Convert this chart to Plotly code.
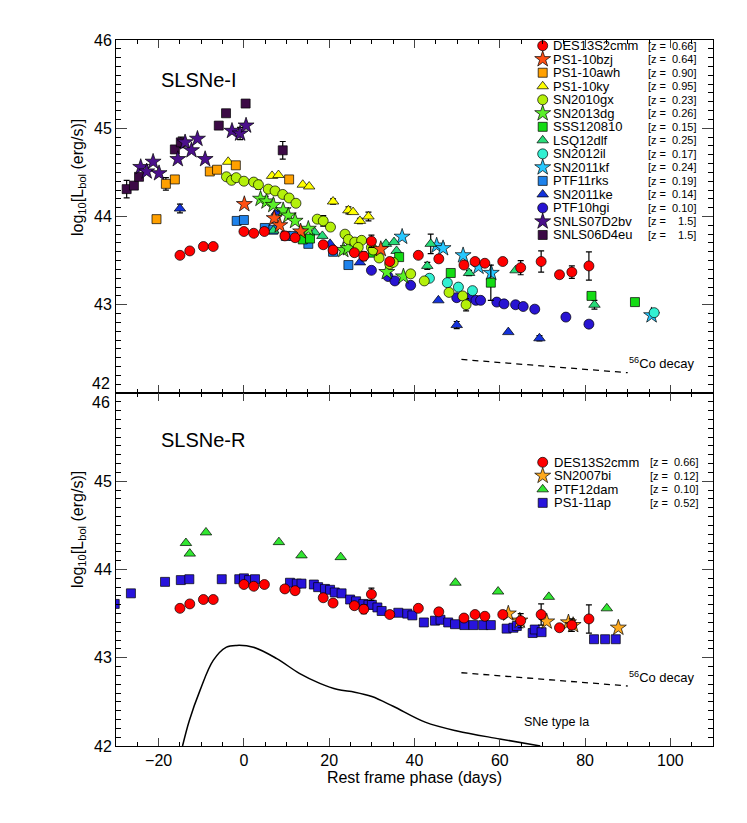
import plotly.graph_objects as go
from plotly.subplots import make_subplots

FONT = "Liberation Sans, Arial, Helvetica, sans-serif"

# ---------------- SLSNe-I (top panel) ----------------
des_x = [-15.0, -12.7, -9.5, -7.2, 0.0, 2.3, 4.8, 9.6, 12.0, 18.6, 20.9, 25.9, 28.1, 29.9, 34.2,
         40.9, 45.7, 51.6, 54.2, 56.5, 60.7, 64.9, 69.7, 74.0, 76.9, 80.9]
des_y = [43.56, 43.61, 43.66, 43.66, 43.83, 43.81, 43.83, 43.78, 43.76, 43.68, 43.62, 43.59, 43.55, 43.72, 43.49,
         43.56, 43.52, 43.45, 43.49, 43.47, 43.49, 43.42, 43.49, 43.34, 43.37, 43.44]
des_err = [0, 0, 0, 0, 0, 0, 0, 0, 0, 0, 0, 0, 0.05, 0.07, 0,
           0, 0.03, 0, 0.03, 0, 0, 0.08, 0.12, 0.03, 0.07, 0.16]

bzj_x = [0.1, 7.1, 8.4, 13.3, 32.1]
bzj_y = [44.14, 43.98, 43.90, 43.83, 43.63]

awh_x = [-20.5, -18.3, -16.2, -8.0, -6.3, -1.9, 10.6]
awh_y = [43.97, 44.37, 44.42, 44.51, 44.53, 44.58, 44.42]
awh_err = [0, 0.07, 0, 0, 0, 0, 0]

ky_x = [-3.7, 6.6, 8.1, 13.8, 15.3, 20.9, 24.5, 25.6, 27.2, 29.2]
ky_y = [44.62, 44.46, 44.47, 44.36, 44.34, 44.17, 44.07, 44.05, 43.95, 44.00]
ky_err = [0, 0, 0, 0, 0, 0.03, 0.04, 0, 0.03, 0.05]

gx_x = [-4.1, -2.9, -1.8, 0.0, 2.3, 3.4, 5.7, 7.3, 9.1, 10.6, 12.2, 17.2, 18.6, 20.3, 23.7,
        24.5, 26.0, 27.6, 26.8, 29.9, 30.3, 31.7, 34.2, 35.0, 39.1, 42.3, 48.1, 51.3, 52.1]
gx_y = [44.45, 44.41, 44.44, 44.40, 44.39, 44.36, 44.31, 44.29, 44.25, 44.21, 44.15, 43.97, 43.95, 43.88, 43.80,
        43.74, 43.71, 43.73, 43.65, 43.65, 43.62, 43.53, 43.46, 43.48, 43.35, 43.27, 43.14, 43.10, 43.00]
gx_err = [0, 0, 0, 0, 0, 0.05, 0, 0, 0, 0, 0, 0, 0.06, 0, 0,
          0, 0, 0, 0, 0, 0, 0, 0, 0, 0, 0, 0, 0, 0.07]

dg_x = [3.9, 5.3, 6.9, 9.2, 10.4, 12.0, 15.1, 23.3, 24.4, 33.5, 37.4]
dg_y = [44.20, 44.17, 44.13, 44.07, 44.01, 43.95, 43.86, 43.62, 43.64, 43.37, 43.32]

sss_x = [13.8, 15.5, 30.2, 36.4, 48.5, 57.9, 81.5, 91.7]
sss_y = [43.74, 43.75, 43.59, 43.54, 43.36, 43.25, 43.10, 43.03]
sss_err = [0, 0, 0, 0, 0, 0.20, 0, 0]

lsq_x = [6.9, 16.6, 18.4, 33.3, 35.2, 35.8, 43.0, 43.8, 52.8, 63.7, 82.2]
lsq_y = [43.84, 43.82, 43.78, 43.69, 43.71, 43.61, 43.44, 43.69, 43.36, 43.39, 43.00]
lsq_err = [0, 0, 0, 0, 0, 0, 0.04, 0.11, 0.03, 0, 0.05]

il_x = [43.5, 47.7, 50.3, 53.6, 96.2]
il_y = [43.30, 43.25, 43.20, 43.16, 42.91]

kf_x = [37.1, 45.2, 46.7, 51.4, 55.0, 58.0, 95.6]
kf_y = [43.77, 43.67, 43.64, 43.56, 43.43, 43.36, 42.88]

rks_x = [-1.7, 0.0, 4.9, 6.9, 9.8, 11.6, 15.1, 20.9, 24.5]
rks_y = [43.95, 43.96, 43.87, 43.85, 43.78, 43.78, 43.69, 43.60, 43.45]

ke_x = [-15.0, 7.7, 20.2, 27.2, 45.6, 49.9, 62.0, 69.3]
ke_y = [44.09, 44.05, 43.69, 43.48, 43.05, 42.77, 42.69, 42.62]
ke_err = [0.05, 0, 0, 0, 0, 0.04, 0, 0.03]

hgi_x = [29.9, 33.8, 35.4, 39.1, 49.9, 52.8, 54.4, 55.5, 59.3, 61.0, 63.7, 65.5, 68.2, 75.5, 80.9]
hgi_y = [43.39, 43.32, 43.27, 43.22, 43.08, 43.08, 43.05, 43.05, 43.03, 43.01, 43.00, 42.98, 42.95, 42.86, 42.78]

d2bv_x = [-24.2, -22.8, -21.3, -19.9, -15.5, -13.8, -12.3, -10.9, -9.1, -2.8, -0.9, 0.5]
d2bv_y = [44.56, 44.51, 44.62, 44.49, 44.65, 44.84, 44.75, 44.88, 44.65, 44.97, 44.94, 45.03]
d2bv_err = [0, 0, 0, 0, 0, 0, 0, 0, 0, 0, 0.07, 0]

d4eu_x = [-27.5, -25.8, -24.6, -16.2, -14.8, -5.9, -4.2, 0.4, 9.1]
d4eu_y = [44.31, 44.35, 44.45, 44.76, 44.84, 45.03, 45.17, 45.28, 44.75]
d4eu_err = [0.1, 0, 0, 0, 0.06, 0, 0, 0, 0.1]

# ---------------- SLSNe-R (bottom panel) ----------------
bi_x = [62.0, 64.7, 71.0, 76.1, 77.2, 87.8]
bi_y = [43.50, 43.42, 43.41, 43.40, 43.37, 43.34]

dam_x = [-13.6, -12.7, -8.9, 8.2, 13.5, 22.7, 49.6, 59.6, 71.5, 85.1]
dam_y = [44.30, 44.18, 44.42, 44.31, 44.16, 44.14, 43.85, 43.75, 43.69, 43.56]

ap_x = [-30.3, -26.5, -18.5, -14.8, -12.8, -5.2, -1.1, 0.0, 1.2, 2.6, 10.8, 12.4, 13.5, 16.4, 17.4,
        19.0, 20.2, 21.3, 22.9, 24.9, 26.3, 28.0, 29.2, 30.0, 31.3, 32.3, 36.2, 38.3, 39.5, 42.2,
        44.8, 46.1, 47.9, 49.5, 51.7, 53.8, 56.1, 57.9, 61.6, 63.2, 64.0, 67.7, 68.2, 69.8, 82.1,
        84.7, 87.2]
ap_y = [43.61, 43.73, 43.86, 43.88, 43.89, 43.89, 43.89, 43.90, 43.88, 43.89, 43.85, 43.84, 43.84, 43.83, 43.80,
        43.78, 43.77, 43.74, 43.73, 43.66, 43.64, 43.61, 43.60, 43.60, 43.57, 43.53, 43.51, 43.50, 43.48, 43.40,
        43.42, 43.43, 43.40, 43.38, 43.37, 43.37, 43.37, 43.37, 43.33, 43.34, 43.36, 43.28, 43.32, 43.29, 43.21,
        43.21, 43.21]

ia_x = [-14.4, -12.8, -10.3, -7.2, -4.1, -1.7, 2.2, 7.7, 13.1, 17.8, 22.0, 26.0, 30.0, 35.0, 42.5,
        50.0, 60.0, 69.5]
ia_y = [42.0, 42.29, 42.63, 42.97, 43.12, 43.14, 43.12, 42.99, 42.82, 42.71, 42.64, 42.61, 42.56, 42.45, 42.27,
        42.17, 42.08, 42.0]

co_x = [51.0, 90.0]
co_top_y = [42.38, 42.23]
co_bot_y = [42.83, 42.68]

x_ticks = [-20, 0, 20, 40, 60, 80, 100]

# name, z, colour, symbol, size, x, y, err
top_series = [
    ("DES13S2cmm", "0.66", "#ff0000", "circle", 10, des_x, des_y, des_err),
    ("PS1-10bzj", "0.64", "#ff5014", "star", 12, bzj_x, bzj_y, None),
    ("PS1-10awh", "0.90", "#ffa000", "square", 9, awh_x, awh_y, awh_err),
    ("PS1-10ky", "0.95", "#ffff00", "triangle-up", 10, ky_x, ky_y, ky_err),
    ("SN2010gx", "0.23", "#b4f00a", "circle", 10, gx_x, gx_y, gx_err),
    ("SN2013dg", "0.26", "#5af028", "star", 12, dg_x, dg_y, None),
    ("SSS120810", "0.15", "#14dc14", "square", 9, sss_x, sss_y, sss_err),
    ("LSQ12dlf", "0.25", "#28dc78", "triangle-up", 10, lsq_x, lsq_y, lsq_err),
    ("SN2012il", "0.17", "#32f0d2", "circle", 10, il_x, il_y, None),
    ("SN2011kf", "0.24", "#28c8ff", "star", 12, kf_x, kf_y, None),
    ("PTF11rks", "0.19", "#1e82eb", "square", 9, rks_x, rks_y, None),
    ("SN2011ke", "0.14", "#1432dc", "triangle-up", 10, ke_x, ke_y, ke_err),
    ("PTF10hgi", "0.10", "#2814d2", "circle", 10, hgi_x, hgi_y, None),
    ("SNLS07D2bv", "1.5", "#4b108c", "star", 12, d2bv_x, d2bv_y, d2bv_err),
    ("SNLS06D4eu", "1.5", "#3c0a46", "square", 9, d4eu_x, d4eu_y, d4eu_err),
]
bottom_series = [
    ("DES13S2cmm", "0.66", "#ff0000", "circle", 10, des_x, des_y, des_err),
    ("SN2007bi", "0.12", "#ffaa1e", "star", 12, bi_x, bi_y, None),
    ("PTF12dam", "0.10", "#32e632", "triangle-up", 10, dam_x, dam_y, None),
    ("PS1-11ap", "0.52", "#2814dc", "square", 9, ap_x, ap_y, None),
]

# the page adds an 8px body margin, so the plot area (window pixels) is shifted by it
PAD = 8
L, R, T, B = 116, 713, 40, 746
W, H = 747 - 2 * PAD, 823 - 2 * PAD


def paper_x(px):
    return (px - L) / (R - L)


def paper_y(py):
    return (B - py) / (B - T)


def day_of(px):
    return -30 + (px - L) / (R - L) * 140


def top_val(py):
    return 46 - (py - 40) / 353 * 4


def bot_val(py):
    return 46 - (py - 393) / 353 * 4


fig = make_subplots(rows=2, cols=1, shared_xaxes=True, vertical_spacing=0)


def add_series(series, row):
    for name, z, color, symbol, size, xs, ys, err in reversed(series):
        kw = {}
        if err is not None:
            kw["error_y"] = dict(type="data", array=err, visible=True, color="black", thickness=1.2, width=3)
        fig.add_trace(
            go.Scatter(
                x=xs, y=ys, mode="markers", name=name, showlegend=False,
                marker=dict(symbol=symbol, size=size, color=color, line=dict(color="black", width=0.7)),
                **kw,
            ),
            row=row, col=1,
        )


add_series(top_series, 1)
add_series(bottom_series, 2)

# SN Ia template and Co decay slopes
fig.add_trace(go.Scatter(x=ia_x, y=ia_y, mode="lines", line=dict(color="black", width=1.5, shape="spline"),
                         showlegend=False, hoverinfo="skip"), row=2, col=1)
fig.add_trace(go.Scatter(x=co_x, y=co_top_y, mode="lines", line=dict(color="black", width=1.3, dash="6px,5px"),
                         showlegend=False), row=1, col=1)
fig.add_trace(go.Scatter(x=co_x, y=co_bot_y, mode="lines", line=dict(color="black", width=1.3, dash="6px,5px"),
                         showlegend=False), row=2, col=1)

annotations = []


def text(px, py, s, size, anchor="left", **kw):
    annotations.append(dict(xref="paper", yref="paper", x=paper_x(px), y=paper_y(py), text=s, showarrow=False,
                            xanchor=anchor, yanchor="middle", borderpad=0,
                            font=dict(family=FONT, size=size, color="black"), **kw))


# hand-made legends (marker + name + redshift column)
def legend(series, row, y0, x_name, x_z, x_val):
    for i, (name, z, color, symbol, size, *_rest) in enumerate(series):
        py = y0 + 13.52 * i
        yv = top_val(py) if row == 1 else bot_val(py)
        fig.add_trace(go.Scatter(x=[day_of(542.7)], y=[yv], mode="markers", showlegend=False, hoverinfo="skip",
                                 marker=dict(symbol=symbol, size=size, color=color,
                                             line=dict(color="black", width=0.7))), row=row, col=1)
        text(x_name, py, name, 13)
        text(x_z, py, "[z =", 11)
        text(x_val, py, z + "]", 11, anchor="right")


legend(top_series, 1, 45.7, 552, 647, 697)
legend(bottom_series, 2, 462.3, 553, 649, 699)

text(160, 80, "SLSNe-I", 20)
text(160, 440, "SLSNe-R", 20)
text(628, 363, "<sup>56</sup>Co decay", 13)
text(628, 677, "<sup>56</sup>Co decay", 13)
text(523, 722, "SNe type Ia", 12.5)
text(78, 178, "log<sub>10</sub>[L<sub>bol</sub> (erg/s)]", 16, anchor="center", textangle=-90)
text(78, 530, "log<sub>10</sub>[L<sub>bol</sub> (erg/s)]", 16, anchor="center", textangle=-90)
# shared-edge tick labels, offset as in the original
text(111, 383, "42", 16, anchor="right")
text(111, 402, "46", 16, anchor="right")

fig.update_xaxes(range=[-30, 110], tickvals=x_ticks, ticks="inside", ticklen=8, tickwidth=1, mirror="ticks",
                 showline=True, linecolor="black", linewidth=1, showgrid=False, zeroline=False,
                 minor=dict(dtick=5, tick0=0, ticks="inside", ticklen=4, tickcolor="black"),
                 tickfont=dict(family=FONT, size=16, color="black"))
fig.update_xaxes(showticklabels=False, row=1, col=1)
fig.update_xaxes(title=dict(text="Rest frame phase (days)", font=dict(family=FONT, size=16, color="black"),
                            standoff=2), row=2, col=1)

fig.update_yaxes(range=[42, 46], ticks="inside", ticklen=11, tickwidth=1, mirror="ticks",
                 showline=True, linecolor="black", linewidth=1, showgrid=False, zeroline=False,
                 minor=dict(dtick=0.1, ticks="inside", ticklen=5, tickcolor="black"),
                 tickfont=dict(family=FONT, size=16, color="black"))
fig.update_yaxes(tickvals=[42, 43, 44, 45, 46], ticktext=["", "43", "44", "45", "46"], row=1, col=1)
fig.update_yaxes(tickvals=[42, 43, 44, 45, 46], ticktext=["42", "43", "44", "45", ""], row=2, col=1)

fig.update_layout(
    width=W, height=H,
    margin=dict(l=L - PAD, r=747 - PAD - R, t=T - PAD, b=823 - PAD - B),
    paper_bgcolor="white", plot_bgcolor="white",
    font=dict(family=FONT, color="black"),
    annotations=annotations,
    yaxis=dict(domain=[0.5, 1.0]),
    yaxis2=dict(domain=[0.0, 0.5]),
)

fig.write_html("out.html")
